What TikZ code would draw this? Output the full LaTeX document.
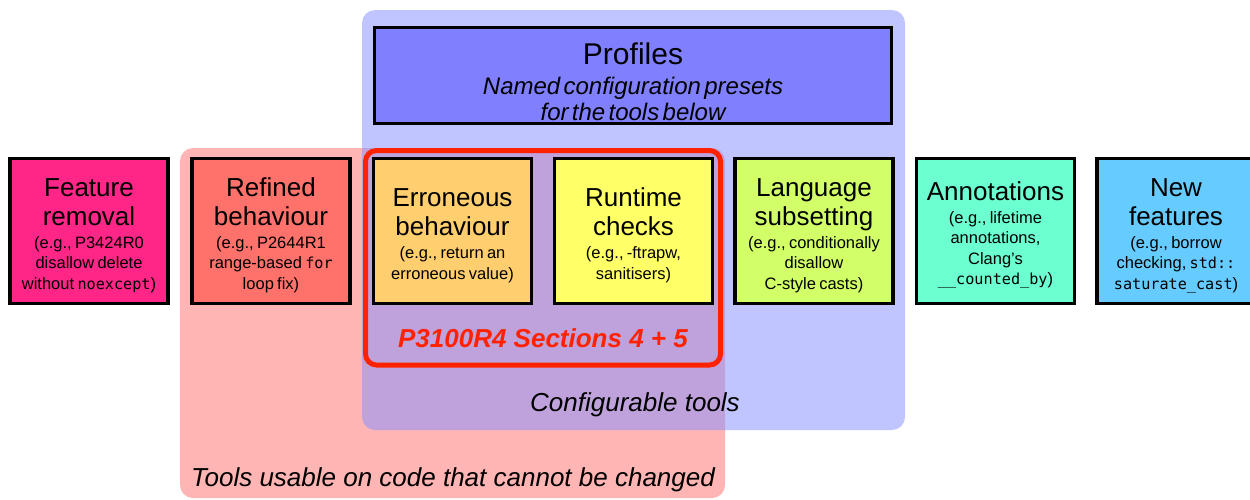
\documentclass[tikz,border=0pt]{standalone}
\usepackage{fontspec}
\setmainfont{Liberation Sans}
\setmonofont{DejaVu Sans Mono}[Scale=0.92]
\definecolor{cfgblue}{RGB}{140,147,255}
\definecolor{fixpink}{RGB}{255,181,179}
\definecolor{secred}{RGB}{255,34,0}
\definecolor{profblue}{RGB}{128,128,255}
\definecolor{remmag}{RGB}{255,38,136}
\definecolor{refsalmon}{RGB}{255,114,108}
\definecolor{errorange}{RGB}{255,206,110}
\definecolor{rtyellow}{RGB}{255,255,104}
\definecolor{sublime}{RGB}{210,255,104}
\definecolor{annmint}{RGB}{108,255,208}
\definecolor{newsky}{RGB}{102,204,255}
\newcommand{\boxtitle}[1]{{\fontsize{26}{29}\selectfont\rule{0pt}{27pt}#1\par}\vspace{2.5pt}}
\newcommand{\boxnote}[1]{{\fontsize{16.5}{20.5}\selectfont #1\par}}
\tikzset{
  toolbox/.style={draw, line width=3.5pt, minimum width=155pt, minimum height=145pt,
    text width=158pt, align=center, inner sep=0pt},
  region/.style={rounded corners=13pt},
  caption/.style={font=\fontsize{26}{30}\selectfont\itshape}
}
\begin{document}
\begin{tikzpicture}[x=1pt, y=-1pt]
\useasboundingbox (0,0) rectangle (1250,499);
\fill[fixpink, region] (180,148) rectangle (725,498);
\fill[cfgblue, fill opacity=0.55, region] (362,10) rectangle (905,430);
\node[toolbox, fill=profblue, minimum width=517pt, minimum height=96pt] (prof) at (633,75.5) {};
\node[text width=500pt, align=center, inner sep=0pt] (proftext) at (633,82)
  {{\fontsize{30}{32}\selectfont Profiles\par}\vspace{4pt}{\fontsize{24}{26}\selectfont\itshape Named configuration presets\\for the tools below\par}};
\node[toolbox, fill=remmag] (frem) at (89,231)
  {\boxtitle{Feature\\removal}\boxnote{(e.g., P3424R0\\disallow delete\\without \texttt{noexcept})}};
\node[toolbox, fill=refsalmon] (refb) at (271,231)
  {\boxtitle{Refined\\behaviour}\boxnote{(e.g., P2644R1\\range-based \texttt{for}\\loop fix)}};
\node[toolbox, fill=errorange] (errb) at (452.5,231)
  {\boxtitle{Erroneous\\behaviour}\boxnote{(e.g., return an\\erroneous value)}};
\node[toolbox, fill=rtyellow] (rtc) at (633.5,231)
  {\boxtitle{Runtime\\checks}\boxnote{(e.g., -ftrapw,\\sanitisers)}};
\node[toolbox, fill=sublime] (lsub) at (814,231)
  {\boxtitle{Language\\subsetting}\boxnote{(e.g., conditionally\\disallow\\C-style casts)}};
\node[toolbox, fill=annmint] (anno) at (995.5,231)
  {\boxtitle{Annotations}\boxnote{(e.g., lifetime\\annotations,\\Clang's\\\texttt{\_\_counted\_by})}};
\node[toolbox, fill=newsky] (newf) at (1176,231)
  {\boxtitle{New\\features}\boxnote{(e.g., borrow\\checking, \texttt{std::}\\\texttt{saturate\_cast})}};
\draw[secred, line width=5pt, rounded corners=11pt] (365.5,150.5) rectangle (720.5,365);
\node[secred, caption] (secs) at (543,338) {\bfseries P3100R4 Sections 4 + 5};
\node[caption] (cfg) at (635,405) {Configurable tools};
\node[caption] (fix) at (453,480) {Tools usable on code that cannot be changed};
\end{tikzpicture}
\end{document}
